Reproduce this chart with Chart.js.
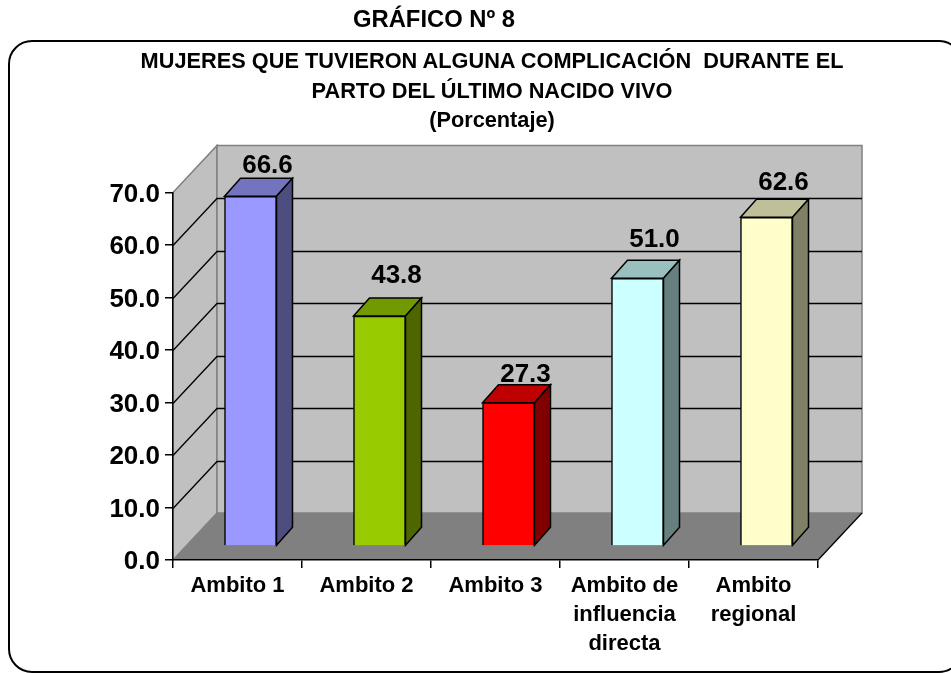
<!DOCTYPE html>
<html lang="es">
<head>
<meta charset="utf-8">
<title>Gráfico Nº 8</title>
<script src="https://cdn.jsdelivr.net/npm/chart.js@4"></script>
<style>
  html, body { margin: 0; padding: 0; background: #fff; overflow: hidden; }
  #page { position: relative; width: 951px; height: 673px; overflow: hidden; font-family: "Liberation Sans", Arial, sans-serif; font-weight: bold; color: #000; }
  #nacional { position: absolute; left: 334px; top: 6px; width: 200px; text-align: center; font-size: 23.8px; line-height: 26px; white-space: pre; }
  #frame { position: absolute; left: 8px; top: 40px; width: 955px; height: 633px; border: 2px solid #000; border-radius: 24px; box-sizing: border-box; }
  #titulo { position: absolute; left: 92px; top: 46px; width: 800px; text-align: center; font-size: 21.75px; line-height: 29.5px; white-space: pre; }
  #chart { position: absolute; left: 0; top: 0; }
</style>
</head>
<body>
<div id="page">
  <div id="frame"></div>
  <canvas id="chart" width="951" height="673"></canvas>
  <div id="nacional"></div>
  <div id="titulo"></div>
</div>
<script>
const heading = 'GRÁFICO Nº 8';
const titleLines = [
    'MUJERES QUE TUVIERON ALGUNA COMPLICACIÓN  DURANTE EL',
    'PARTO DEL ÚLTIMO NACIDO VIVO',
    '(Porcentaje)'
];
const categories = [
    'Ambito 1',
    'Ambito 2',
    'Ambito 3',
    ['Ambito de', 'influencia', 'directa'],
    ['Ambito', 'regional']
];
const values = [66.6, 43.8, 27.3, 51.0, 62.6];
const barColors = ['#9999FF', '#99CC00', '#FF0000', '#CCFFFF', '#FFFFCC'];
const topColors = ['#7373BF', '#739900', '#BF0000', '#99BFBF', '#BFBF99'];
const sideColors = ['#4D4D80', '#4D6600', '#800000', '#668080', '#808066'];
const labelLift = [31, 40, 28, 38, 35];

// fake 3D depth, same look as the old Excel chart
const WALL_DX = 44, WALL_DY = -47;
const BAR_DX = 13, BAR_DY = -14;
const SIDE_DX = 16, SIDE_DY = -18;

document.getElementById('nacional').textContent = heading;
document.getElementById('titulo').textContent = titleLines.join('\n');

function poly(ctx, pts, fill, stroke, lw) {
    ctx.beginPath();
    pts.forEach((p, i) => i ? ctx.lineTo(p[0], p[1]) : ctx.moveTo(p[0], p[1]));
    ctx.closePath();
    if (fill) { ctx.fillStyle = fill; ctx.fill(); }
    if (stroke) { ctx.strokeStyle = stroke; ctx.lineWidth = lw || 1; ctx.stroke(); }
}

const walls = {
    id: 'walls',
    beforeDraw(chart) {
        const { ctx, chartArea: a, scales: { y } } = chart;
        const l = a.left, r = a.right, t = a.top, b = a.bottom;
        // the y tick text sits a touch low in the original
        y.getLabelItems().forEach(item => { item.options.translation[1] += 2; });
        ctx.save();
        // left wall, back wall, floor
        poly(ctx, [[l, t], [l + WALL_DX, t + WALL_DY], [l + WALL_DX, b + WALL_DY], [l, b]], '#C0C0C0', '#808080', 1.5);
        poly(ctx, [[l + WALL_DX, t + WALL_DY], [r + WALL_DX, t + WALL_DY], [r + WALL_DX, b + WALL_DY], [l + WALL_DX, b + WALL_DY]], '#C0C0C0', '#808080', 1.5);
        poly(ctx, [[l, b], [l + WALL_DX, b + WALL_DY], [r + WALL_DX, b + WALL_DY], [r, b]], '#808080', null);
        // grid lines run around the two walls
        ctx.strokeStyle = '#000';
        ctx.lineWidth = 1.3;
        y.ticks.forEach(tick => {
            if (tick.value === 0 || tick.value === y.max) return;
            const py = Math.round(y.getPixelForValue(tick.value)) + 0.5;
            ctx.beginPath();
            ctx.moveTo(l, py);
            ctx.lineTo(l + WALL_DX, py + WALL_DY);
            ctx.lineTo(r + WALL_DX, py + WALL_DY);
            ctx.stroke();
        });
        ctx.beginPath();
        ctx.moveTo(r, b);
        ctx.lineTo(r + WALL_DX, b + WALL_DY);
        ctx.stroke();
        ctx.restore();
    }
};

const bars3d = {
    id: 'bars3d',
    beforeDatasetsDraw(chart) {
        const { ctx } = chart;
        ctx.save();
        ctx.translate(BAR_DX, BAR_DY);
        chart.getDatasetMeta(0).data.forEach((bar, i) => {
            const l = bar.x - bar.width / 2, r = bar.x + bar.width / 2;
            const t = bar.y, b = bar.base;
            poly(ctx, [[l, t], [l + SIDE_DX, t + SIDE_DY], [r + SIDE_DX, t + SIDE_DY], [r, t]], topColors[i], '#000', 1.5);
            poly(ctx, [[r, t], [r + SIDE_DX, t + SIDE_DY], [r + SIDE_DX, b + SIDE_DY], [r, b]], sideColors[i], '#000', 1.5);
        });
    },
    afterDatasetsDraw(chart) {
        const { ctx } = chart;
        ctx.restore();
        ctx.save();
        ctx.font = 'bold 26px "Liberation Sans", Arial, sans-serif';
        ctx.fillStyle = '#000';
        ctx.textAlign = 'center';
        ctx.textBaseline = 'middle';
        chart.getDatasetMeta(0).data.forEach((bar, i) => {
            ctx.fillText(values[i].toFixed(1), bar.x + BAR_DX + 17, bar.y + BAR_DY - labelLift[i]);
        });
        ctx.restore();
    }
};

new Chart(document.getElementById('chart'), {
    type: 'bar',
    data: {
        labels: categories,
        datasets: [{
            data: values,
            backgroundColor: barColors,
            borderColor: '#000',
            borderWidth: 1.5,
            barThickness: 52,
            clip: false
        }]
    },
    options: {
        responsive: false,
        animation: false,
        layout: { padding: { top: 192.5, right: 133, left: 0, bottom: 0 } },
        plugins: { legend: { display: false }, tooltip: { enabled: false } },
        scales: {
            x: {
                afterFit: s => { s.height = 113; },
                grid: { drawOnChartArea: false, tickLength: 8, color: '#000', lineWidth: 1.5 },
                border: { display: true, color: '#000', width: 1.5 },
                ticks: {
                    color: '#000',
                    autoSkip: false,
                    maxRotation: 0,
                    padding: 3,
                    font: { family: '"Liberation Sans", Arial, sans-serif', size: 22, weight: 'bold', lineHeight: 1.32 }
                }
            },
            y: {
                min: 0,
                max: 70,
                afterFit: s => { s.width = 173; },
                grid: { drawOnChartArea: false, tickLength: 8, color: '#000', lineWidth: 1.5 },
                border: { display: true, color: '#000', width: 1.5 },
                ticks: {
                    stepSize: 10,
                    color: '#000',
                    padding: 5,
                    callback: v => v.toFixed(1),
                    font: { family: '"Liberation Sans", Arial, sans-serif', size: 26, weight: 'bold' }
                }
            }
        }
    },
    plugins: [walls, bars3d]
});
</script>
</body>
</html>
